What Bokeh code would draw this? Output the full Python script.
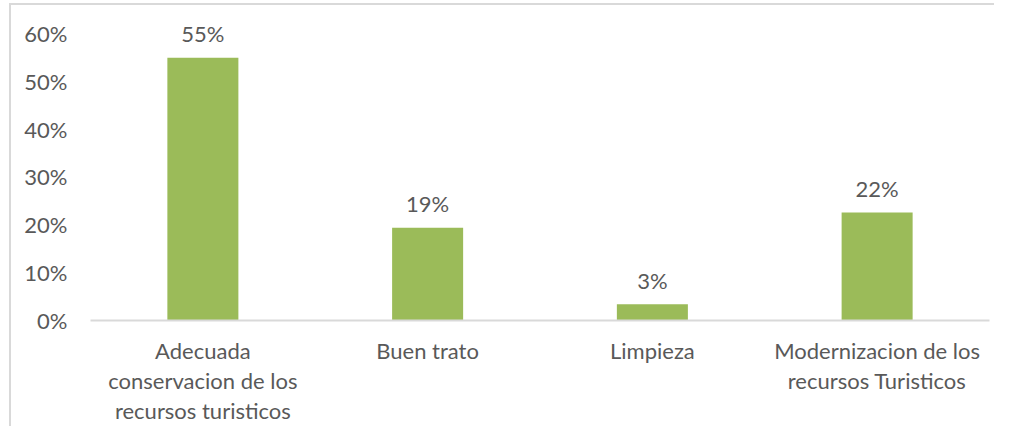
from bokeh.plotting import figure
from bokeh.models import ColumnDataSource, FixedTicker, NumeralTickFormatter, Range1d
from bokeh.core.properties import value
from bokeh.embed import file_html
from bokeh.resources import INLINE

categories = ["Adecuada\nconservacion de los\nrecursos turisticos", "Buen trato", "Limpieza",
              "Modernizacion de los\nrecursos Turisticos"]
values = [0.549, 0.194, 0.034, 0.226]
labels = ["55%", "19%", "3%", "22%"]
y_ticks = [0.0, 0.1, 0.2, 0.3, 0.4, 0.5, 0.6]

FONT = "Lato"
GRAY = "#595959"
FS = "22px"

src = ColumnDataSource(data=dict(cat=categories, val=values, lab=labels))

p = figure(x_range=categories, y_range=Range1d(0, 0.648), width=985, height=423,
           output_backend="svg", toolbar_location=None,
           min_border_left=79, min_border_right=7, min_border_top=5, min_border_bottom=108)
p.styles = {"margin-left": "9px", "margin-top": "3px",
            "border-left": "2px solid #D9D9D9", "border-top": "2px solid #D9D9D9"}
p.outline_line_color = None

p.vbar(x="cat", top="val", width=0.316, source=src, color="#9BBB59", line_color=None)
p.text(x="cat", y="val", text="lab", source=src, y_offset=-24,
       text_align="center", text_baseline="middle", text_color=GRAY,
       text_font=value(FONT), text_font_size=FS)

p.grid.grid_line_color = None

p.yaxis.ticker = FixedTicker(ticks=y_ticks)
p.yaxis.formatter = NumeralTickFormatter(format="0%")
p.yaxis.axis_line_color = None
p.yaxis.major_tick_line_color = None
p.yaxis.minor_tick_line_color = None
p.yaxis.major_label_standoff = 17
p.yaxis.major_label_text_font = FONT
p.yaxis.major_label_text_font_size = FS
p.yaxis.major_label_text_color = GRAY

p.xaxis.axis_line_color = "#D9D9D9"
p.xaxis.axis_line_width = 2
p.xaxis.major_tick_line_color = None
p.xaxis.minor_tick_line_color = None
p.xaxis.major_label_standoff = 10
p.xaxis.major_label_text_font = FONT
p.xaxis.major_label_text_font_size = FS
p.xaxis.major_label_text_color = GRAY
p.xaxis.major_label_text_line_height = 1.12

open("out.html", "w").write(file_html(p, INLINE))
